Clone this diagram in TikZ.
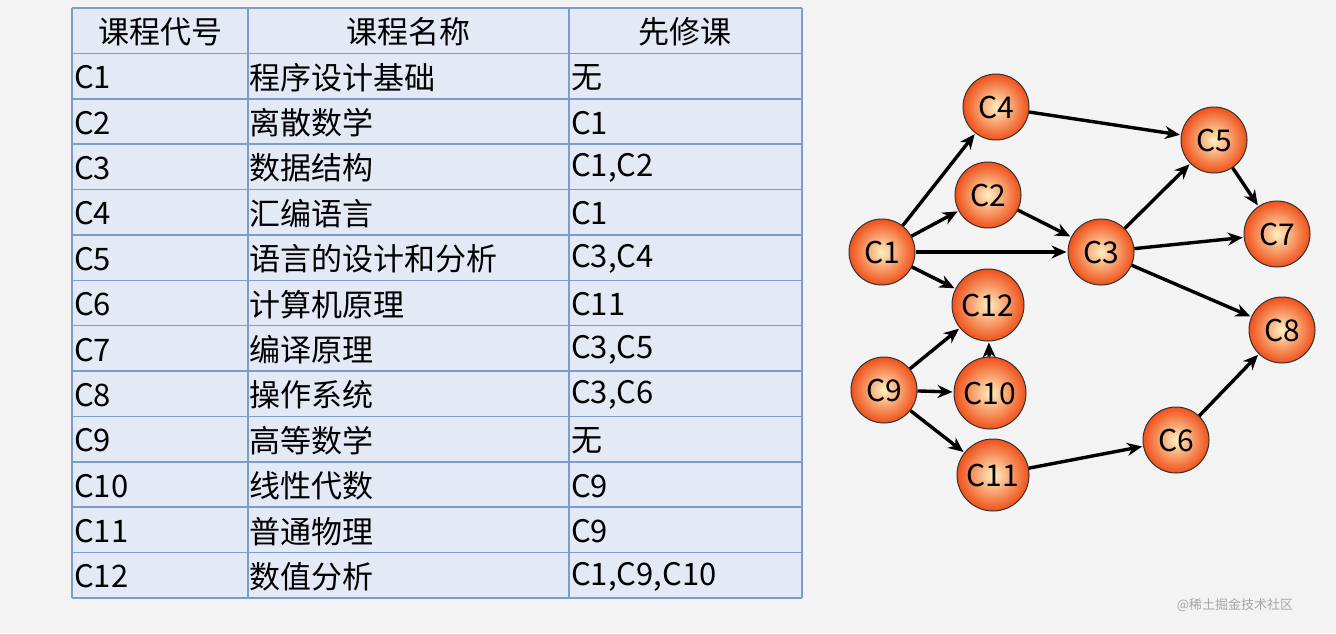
\documentclass[tikz,border=0pt]{standalone}
\usepackage{fontspec}
\setmainfont{Noto Sans CJK SC}
\usetikzlibrary{arrows.meta}
\definecolor{bg}{HTML}{F3F3F3}
\definecolor{cellc}{HTML}{E4EAF5}
\definecolor{bord}{HTML}{7C9CCB}
\definecolor{inner}{HTML}{FFF0C0}
\definecolor{outer}{HTML}{F0501A}
\tikzset{
 cell/.style={font=\fontsize{31}{32}\selectfont, anchor=west, inner sep=0pt},
 course/.style={circle, draw=black!80, line width=1pt, shade, inner color=inner, outer color=outer, minimum size=66pt, inner sep=0pt, font=\fontsize{30}{31}\selectfont},
 big/.style={minimum size=72pt},
 arr/.style={-{Stealth[length=15pt,width=13pt]}, line width=3.4pt, shorten >=1pt}
}
\begin{document}
\begin{tikzpicture}[x=1pt,y=-1pt]
\fill[bg] (0,0) rectangle (1336,633);
\useasboundingbox (0,0) rectangle (1336,633);
\fill[cellc] (72,8) rectangle (802,598);
\foreach \i in {0,...,13} {\draw[bord,line width=1.5pt] (72,8+\i*45.38) -- (802,8+\i*45.38);}
\foreach \x in {72,248,569,802} {\draw[bord,line width=1.5pt] (\x,8) -- (\x,598);}
\node[cell,anchor=center] (h1) at (160,32) {课程代号};
\node[cell,anchor=center] (h2) at (408,32) {课程名称};
\node[cell,anchor=center] (h3) at (685,32) {先修课};
\foreach \a/\b/\c [count=\k] in {C1/程序设计基础/无, C2/离散数学/C1, C3/数据结构/{C1,C2}, C4/汇编语言/C1, C5/语言的设计和分析/{C3,C4}, C6/计算机原理/C11, C7/编译原理/{C3,C5}, C8/操作系统/{C3,C6}, C9/高等数学/无, C10/线性代数/C9, C11/普通物理/C9, C12/数值分析/{C1,C9,C10}} {
 \node[cell] (a\k) at (74,32+\k*45.38) {\a};
 \node[cell] (b\k) at (249,32+\k*45.38) {\b};
 \node[cell] (c\k) at (571,32+\k*45.38) {\c};
}
\node[course] (C1) at (882,252) {C1};
\node[course] (C4) at (996,107) {C4};
\node[course] (C2) at (988,195) {C2};
\node[course] (C3) at (1101,252) {C3};
\node[course] (C5) at (1214,140) {C5};
\node[course] (C7) at (1277,234) {C7};
\node[course] (C8) at (1282,330) {C8};
\node[course,big] (C12) at (988,305) {C12};
\node[course] (C9) at (884,390) {C9};
\node[course,big] (C10) at (990,393) {C10};
\node[course,big] (C11) at (993,475) {C11};
\node[course] (C6) at (1176,440) {C6};
\foreach \s/\t in {C1/C4,C1/C2,C1/C3,C1/C12,C4/C5,C2/C3,C3/C5,C3/C7,C3/C8,C5/C7,C9/C12,C9/C10,C9/C11,C10/C12,C11/C6,C6/C8}
 \draw[arr] (\s) -- (\t);
\node[font=\fontsize{13}{14}\selectfont, text=gray!70] (wm) at (1235,605) {@稀土掘金技术社区};
\end{tikzpicture}
\end{document}
